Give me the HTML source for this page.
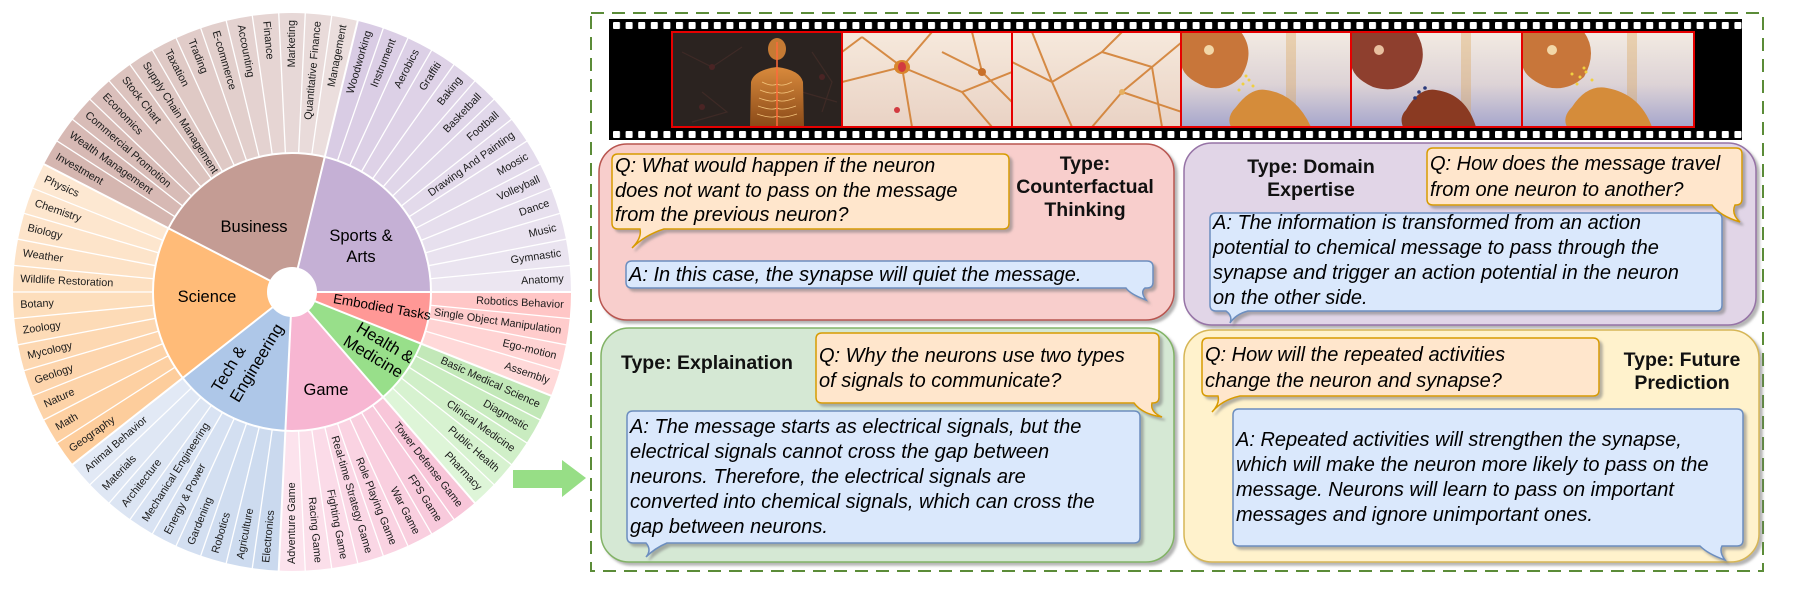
<!DOCTYPE html>
<html><head><meta charset="utf-8">
<style>
html,body{margin:0;padding:0;background:#fff;}
svg{display:block;}
.lf{font-family:"Liberation Sans",sans-serif;font-size:10.8px;fill:#1a1a1a;}
.in{font-family:"Liberation Sans",sans-serif;font-size:16.5px;fill:#000;}
.it{font-family:"Liberation Sans",sans-serif;font-size:20px;font-style:italic;fill:#000;}
.ty{font-family:"Liberation Sans",sans-serif;font-size:19.5px;font-weight:bold;fill:#111;}
</style></head><body>
<svg width="1802" height="604" viewBox="0 0 1802 604" xmlns="http://www.w3.org/2000/svg">
<defs>
<filter id="sh" x="-5%" y="-5%" width="115%" height="130%"><feDropShadow dx="3" dy="3" stdDeviation="1.2" flood-color="#777" flood-opacity="0.55"/></filter>
<pattern id="holes" x="613" y="0" width="12.6" height="200" patternUnits="userSpaceOnUse">
<rect x="0" y="22" width="7" height="7" rx="1" fill="#fff"/>
<rect x="0" y="131" width="7" height="7" rx="1" fill="#fff"/>
</pattern>
<linearGradient id="g4" x1="0" y1="0" x2="0" y2="1"><stop offset="0" stop-color="#f3ebe2"/><stop offset="0.55" stop-color="#ddd3d6"/><stop offset="1" stop-color="#a6a6cc"/></linearGradient>
<linearGradient id="g2" x1="0" y1="0" x2="0" y2="1"><stop offset="0" stop-color="#f6e9dc"/><stop offset="1" stop-color="#e9d2c4"/></linearGradient>
<linearGradient id="gb" x1="0" y1="0" x2="0" y2="1"><stop offset="0" stop-color="#d98a3c"/><stop offset="1" stop-color="#8a4a18"/></linearGradient>
</defs>

<!-- ===== SUNBURST ===== -->
<g transform="translate(292,292)">
<g fill="none" stroke-width="140" stroke-dasharray="19.86 1400">
<circle r="209" stroke="#ffc6c6" transform="rotate(0)"/>
<circle r="209" stroke="#ffcccc" transform="rotate(5.4545)"/>
<circle r="209" stroke="#ffd3d3" transform="rotate(10.909)"/>
<circle r="209" stroke="#ffd9d9" transform="rotate(16.364)"/>
<circle r="209" stroke="#c2e8b8" transform="rotate(21.818)"/>
<circle r="209" stroke="#c9ecc0" transform="rotate(27.273)"/>
<circle r="209" stroke="#d0efc8" transform="rotate(32.727)"/>
<circle r="209" stroke="#d7f2d0" transform="rotate(38.182)"/>
<circle r="209" stroke="#def5d8" transform="rotate(43.636)"/>
<circle r="209" stroke="#f8c6d9" transform="rotate(49.091)"/>
<circle r="209" stroke="#f8cadc" transform="rotate(54.545)"/>
<circle r="209" stroke="#f9cfdf" transform="rotate(60)"/>
<circle r="209" stroke="#fad3e2" transform="rotate(65.455)"/>
<circle r="209" stroke="#fad7e5" transform="rotate(70.909)"/>
<circle r="209" stroke="#fbdbe8" transform="rotate(76.364)"/>
<circle r="209" stroke="#fbdfea" transform="rotate(81.818)"/>
<circle r="209" stroke="#fce3ed" transform="rotate(87.273)"/>
<circle r="209" stroke="#cad9ee" transform="rotate(92.727)"/>
<circle r="209" stroke="#cddbef" transform="rotate(98.182)"/>
<circle r="209" stroke="#d0ddf0" transform="rotate(103.636)"/>
<circle r="209" stroke="#d3dff1" transform="rotate(109.091)"/>
<circle r="209" stroke="#d6e1f2" transform="rotate(114.545)"/>
<circle r="209" stroke="#d9e3f3" transform="rotate(120)"/>
<circle r="209" stroke="#dce5f3" transform="rotate(125.455)"/>
<circle r="209" stroke="#dfe7f4" transform="rotate(130.909)"/>
<circle r="209" stroke="#e2e9f5" transform="rotate(136.364)"/>
<circle r="209" stroke="#fdcd9c" transform="rotate(141.818)"/>
<circle r="209" stroke="#fdd0a2" transform="rotate(147.273)"/>
<circle r="209" stroke="#fdd3a8" transform="rotate(152.727)"/>
<circle r="209" stroke="#fdd5ad" transform="rotate(158.182)"/>
<circle r="209" stroke="#fdd8b2" transform="rotate(163.636)"/>
<circle r="209" stroke="#fddbb7" transform="rotate(169.091)"/>
<circle r="209" stroke="#fddebc" transform="rotate(174.545)"/>
<circle r="209" stroke="#fde0c1" transform="rotate(180)"/>
<circle r="209" stroke="#fde2c6" transform="rotate(185.455)"/>
<circle r="209" stroke="#fde4ca" transform="rotate(190.909)"/>
<circle r="209" stroke="#fde6ce" transform="rotate(196.364)"/>
<circle r="209" stroke="#fde8d2" transform="rotate(201.818)"/>
<circle r="209" stroke="#d5b6b0" transform="rotate(207.273)"/>
<circle r="209" stroke="#d7b9b4" transform="rotate(212.727)"/>
<circle r="209" stroke="#d8bcb7" transform="rotate(218.182)"/>
<circle r="209" stroke="#dabfbb" transform="rotate(223.636)"/>
<circle r="209" stroke="#dcc3be" transform="rotate(229.091)"/>
<circle r="209" stroke="#ddc6c2" transform="rotate(234.545)"/>
<circle r="209" stroke="#dfc9c5" transform="rotate(240)"/>
<circle r="209" stroke="#e1ccc9" transform="rotate(245.455)"/>
<circle r="209" stroke="#e2cfcc" transform="rotate(250.909)"/>
<circle r="209" stroke="#e4d2d0" transform="rotate(256.364)"/>
<circle r="209" stroke="#e6d5d3" transform="rotate(261.818)"/>
<circle r="209" stroke="#e7d8d7" transform="rotate(267.273)"/>
<circle r="209" stroke="#e9dbda" transform="rotate(272.727)"/>
<circle r="209" stroke="#ebdedd" transform="rotate(278.182)"/>
<circle r="209" stroke="#d9cce4" transform="rotate(283.636)"/>
<circle r="209" stroke="#dbcee5" transform="rotate(289.091)"/>
<circle r="209" stroke="#dcd0e6" transform="rotate(294.545)"/>
<circle r="209" stroke="#ded2e7" transform="rotate(300)"/>
<circle r="209" stroke="#dfd4e8" transform="rotate(305.455)"/>
<circle r="209" stroke="#e0d6e9" transform="rotate(310.909)"/>
<circle r="209" stroke="#e1d8ea" transform="rotate(316.364)"/>
<circle r="209" stroke="#e3daeb" transform="rotate(321.818)"/>
<circle r="209" stroke="#e4dcec" transform="rotate(327.273)"/>
<circle r="209" stroke="#e6deed" transform="rotate(332.727)"/>
<circle r="209" stroke="#e7e0ee" transform="rotate(338.182)"/>
<circle r="209" stroke="#e9e2ef" transform="rotate(343.636)"/>
<circle r="209" stroke="#eae4f0" transform="rotate(349.091)"/>
<circle r="209" stroke="#ece6f1" transform="rotate(354.545)"/>
</g>
<g fill="none" stroke-width="115">
<circle r="81.5" stroke="#ff9896" stroke-dasharray="31.04 600" transform="rotate(0)"/>
<circle r="81.5" stroke="#98df8a" stroke-dasharray="38.79 600" transform="rotate(21.818)"/>
<circle r="81.5" stroke="#f7b6d2" stroke-dasharray="62.07 600" transform="rotate(49.091)"/>
<circle r="81.5" stroke="#aec7e8" stroke-dasharray="69.83 600" transform="rotate(92.727)"/>
<circle r="81.5" stroke="#ffbb78" stroke-dasharray="93.11 600" transform="rotate(141.818)"/>
<circle r="81.5" stroke="#c49c94" stroke-dasharray="108.62 600" transform="rotate(207.273)"/>
<circle r="81.5" stroke="#c5b0d5" stroke-dasharray="108.62 600" transform="rotate(283.636)"/>
</g>
<g stroke="#fff" stroke-width="1.3">
<line x1="139" x2="281" transform="rotate(5.4545)"/><line x1="139" x2="281" transform="rotate(10.909)"/><line x1="139" x2="281" transform="rotate(16.364)"/>
<line x1="139" x2="281" transform="rotate(27.273)"/><line x1="139" x2="281" transform="rotate(32.727)"/><line x1="139" x2="281" transform="rotate(38.182)"/><line x1="139" x2="281" transform="rotate(43.636)"/>
<line x1="139" x2="281" transform="rotate(54.545)"/><line x1="139" x2="281" transform="rotate(60)"/><line x1="139" x2="281" transform="rotate(65.455)"/><line x1="139" x2="281" transform="rotate(70.909)"/><line x1="139" x2="281" transform="rotate(76.364)"/><line x1="139" x2="281" transform="rotate(81.818)"/><line x1="139" x2="281" transform="rotate(87.273)"/>
<line x1="139" x2="281" transform="rotate(98.182)"/><line x1="139" x2="281" transform="rotate(103.636)"/><line x1="139" x2="281" transform="rotate(109.091)"/><line x1="139" x2="281" transform="rotate(114.545)"/><line x1="139" x2="281" transform="rotate(120)"/><line x1="139" x2="281" transform="rotate(125.455)"/><line x1="139" x2="281" transform="rotate(130.909)"/><line x1="139" x2="281" transform="rotate(136.364)"/>
<line x1="139" x2="281" transform="rotate(147.273)"/><line x1="139" x2="281" transform="rotate(152.727)"/><line x1="139" x2="281" transform="rotate(158.182)"/><line x1="139" x2="281" transform="rotate(163.636)"/><line x1="139" x2="281" transform="rotate(169.091)"/><line x1="139" x2="281" transform="rotate(174.545)"/><line x1="139" x2="281" transform="rotate(180)"/><line x1="139" x2="281" transform="rotate(185.455)"/><line x1="139" x2="281" transform="rotate(190.909)"/><line x1="139" x2="281" transform="rotate(196.364)"/><line x1="139" x2="281" transform="rotate(201.818)"/>
<line x1="139" x2="281" transform="rotate(212.727)"/><line x1="139" x2="281" transform="rotate(218.182)"/><line x1="139" x2="281" transform="rotate(223.636)"/><line x1="139" x2="281" transform="rotate(229.091)"/><line x1="139" x2="281" transform="rotate(234.545)"/><line x1="139" x2="281" transform="rotate(240)"/><line x1="139" x2="281" transform="rotate(245.455)"/><line x1="139" x2="281" transform="rotate(250.909)"/><line x1="139" x2="281" transform="rotate(256.364)"/><line x1="139" x2="281" transform="rotate(261.818)"/><line x1="139" x2="281" transform="rotate(267.273)"/><line x1="139" x2="281" transform="rotate(272.727)"/><line x1="139" x2="281" transform="rotate(278.182)"/>
<line x1="139" x2="281" transform="rotate(289.091)"/><line x1="139" x2="281" transform="rotate(294.545)"/><line x1="139" x2="281" transform="rotate(300)"/><line x1="139" x2="281" transform="rotate(305.455)"/><line x1="139" x2="281" transform="rotate(310.909)"/><line x1="139" x2="281" transform="rotate(316.364)"/><line x1="139" x2="281" transform="rotate(321.818)"/><line x1="139" x2="281" transform="rotate(327.273)"/><line x1="139" x2="281" transform="rotate(332.727)"/><line x1="139" x2="281" transform="rotate(338.182)"/><line x1="139" x2="281" transform="rotate(343.636)"/><line x1="139" x2="281" transform="rotate(349.091)"/><line x1="139" x2="281" transform="rotate(354.545)"/>
</g>
<g stroke="#fff" stroke-width="2">
<line x1="20" x2="281" transform="rotate(0)"/><line x1="20" x2="281" transform="rotate(21.818)"/><line x1="20" x2="281" transform="rotate(49.091)"/><line x1="20" x2="281" transform="rotate(92.727)"/><line x1="20" x2="281" transform="rotate(141.818)"/><line x1="20" x2="281" transform="rotate(207.273)"/><line x1="20" x2="281" transform="rotate(283.636)"/>
</g>
<circle r="139" fill="none" stroke="#fff" stroke-width="2"/>
<circle r="25" fill="#fff"/>
<!-- leaf labels -->
<g class="lf" dominant-baseline="central">
<g text-anchor="end">
<text transform="rotate(2.73) translate(272 0)">Robotics Behavior</text>
<text transform="rotate(8.18) translate(272 0)">Single Object Manipulation</text>
<text transform="rotate(13.64) translate(272 0)">Ego-motion</text>
<text transform="rotate(19.09) translate(272 0)">Assembly</text>
<text transform="rotate(24.55) translate(272 0)">Basic Medical Science</text>
<text transform="rotate(30) translate(272 0)">Diagnostic</text>
<text transform="rotate(35.45) translate(272 0)">Clinical Medicine</text>
<text transform="rotate(40.91) translate(272 0)">Public Health</text>
<text transform="rotate(46.36) translate(272 0)">Pharmacy</text>
<text transform="rotate(51.82) translate(272 0)">Tower Defense Game</text>
<text transform="rotate(57.27) translate(272 0)">FPS Game</text>
<text transform="rotate(62.73) translate(272 0)">War Game</text>
<text transform="rotate(68.18) translate(272 0)">Role Playing Game</text>
<text transform="rotate(73.64) translate(272 0)">Real-time Strategy Game</text>
<text transform="rotate(79.09) translate(272 0)">Fighting Game</text>
<text transform="rotate(84.55) translate(272 0)">Racing Game</text>
<text transform="rotate(270) translate(272 0)">Marketing</text>
<text transform="rotate(275.45) translate(272 0)">Quantitative Finance</text>
<text transform="rotate(280.91) translate(272 0)">Management</text>
<text transform="rotate(286.36) translate(272 0)">Woodworking</text>
<text transform="rotate(291.82) translate(272 0)">Instrument</text>
<text transform="rotate(297.27) translate(272 0)">Aerobics</text>
<text transform="rotate(302.73) translate(272 0)">Graffiti</text>
<text transform="rotate(308.18) translate(272 0)">Baking</text>
<text transform="rotate(313.64) translate(272 0)">Basketball</text>
<text transform="rotate(319.09) translate(272 0)">Football</text>
<text transform="rotate(324.55) translate(272 0)">Drawing And Painting</text>
<text transform="rotate(330) translate(272 0)">Moosic</text>
<text transform="rotate(335.45) translate(272 0)">Volleyball</text>
<text transform="rotate(340.91) translate(272 0)">Dance</text>
<text transform="rotate(346.36) translate(272 0)">Music</text>
<text transform="rotate(351.82) translate(272 0)">Gymnastic</text>
<text transform="rotate(357.27) translate(272 0)">Anatomy</text>
</g>
<g text-anchor="start">
<text transform="rotate(270) translate(-272 0)">Adventure Game</text>
<text transform="rotate(275.45) translate(-272 0)">Electronics</text>
<text transform="rotate(280.91) translate(-272 0)">Agriculture</text>
<text transform="rotate(286.36) translate(-272 0)">Robotics</text>
<text transform="rotate(291.82) translate(-272 0)">Gardening</text>
<text transform="rotate(297.27) translate(-272 0)">Energy &amp; Power</text>
<text transform="rotate(302.73) translate(-272 0)">Mechanical Engineering</text>
<text transform="rotate(308.18) translate(-272 0)">Architecture</text>
<text transform="rotate(313.64) translate(-272 0)">Materials</text>
<text transform="rotate(319.09) translate(-272 0)">Animal Behavior</text>
<text transform="rotate(324.55) translate(-272 0)">Geography</text>
<text transform="rotate(330) translate(-272 0)">Math</text>
<text transform="rotate(335.45) translate(-272 0)">Nature</text>
<text transform="rotate(340.91) translate(-272 0)">Geology</text>
<text transform="rotate(346.36) translate(-272 0)">Mycology</text>
<text transform="rotate(351.82) translate(-272 0)">Zoology</text>
<text transform="rotate(357.27) translate(-272 0)">Botany</text>
<text transform="rotate(362.73) translate(-272 0)">Wildlife Restoration</text>
<text transform="rotate(368.18) translate(-272 0)">Weather</text>
<text transform="rotate(373.64) translate(-272 0)">Biology</text>
<text transform="rotate(379.09) translate(-272 0)">Chemistry</text>
<text transform="rotate(384.55) translate(-272 0)">Physics</text>
<text transform="rotate(390) translate(-272 0)">Investment</text>
<text transform="rotate(395.45) translate(-272 0)">Wealth Management</text>
<text transform="rotate(400.91) translate(-272 0)">Commercial Promotion</text>
<text transform="rotate(406.36) translate(-272 0)">Economics</text>
<text transform="rotate(411.82) translate(-272 0)">Stock Chart</text>
<text transform="rotate(417.27) translate(-272 0)">Supply Chain Management</text>
<text transform="rotate(422.73) translate(-272 0)">Taxation</text>
<text transform="rotate(428.18) translate(-272 0)">Trading</text>
<text transform="rotate(433.64) translate(-272 0)">E-commerce</text>
<text transform="rotate(439.09) translate(-272 0)">Accounting</text>
<text transform="rotate(444.55) translate(-272 0)">Finance</text>
</g>
</g>
</g>
<!-- inner labels -->
<g class="in" text-anchor="middle" dominant-baseline="central">
<text x="254" y="227">Business</text>
<text x="361" y="236">Sports &amp;</text>
<text x="361" y="257">Arts</text>
<text x="207" y="297">Science</text>
<text x="326" y="390">Game</text>
<text transform="translate(229,369) rotate(-59)">Tech &amp;</text>
<text transform="translate(257,363) rotate(-59)">Engineering</text>
<text transform="translate(385,343) rotate(31)">Health &amp;</text>
<text transform="translate(373,357) rotate(31)">Medicine</text>
<text transform="translate(382,307) rotate(10)" style="font-size:13.5px">Embodied Tasks</text>
</g>

<!-- arrow -->
<polygon points="513,470 562,470 562,460 586,478 562,497 562,488 513,488" fill="#97de86"/>

<!-- ===== RIGHT PANEL ===== -->
<rect x="591" y="13" width="1172" height="558" fill="none" stroke="#5b8c38" stroke-width="2" stroke-dasharray="13 8"/>

<!-- film strip -->
<rect x="609" y="19" width="1133" height="121" fill="#000"/>
<rect x="609" y="19" width="1133" height="121" fill="url(#holes)"/>

<!-- frame 1 -->
<svg x="672" y="32" width="170" height="95">
<rect width="170" height="95" fill="#2b2320"/>
<g stroke="#3e2a26" stroke-width="1.2" fill="none">
<path d="M10,20 L40,35 L70,15 M30,60 L55,80 L20,90 M140,20 L160,50 L150,80 M130,60 L165,70"/>
</g>
<circle cx="40" cy="35" r="3" fill="#4a2424"/><circle cx="150" cy="45" r="3" fill="#4a2424"/><circle cx="30" cy="75" r="3" fill="#4a2424"/>
<ellipse cx="105" cy="17" rx="9" ry="11" fill="#c57a34"/>
<path d="M78,95 L79,50 Q82,38 105,35 Q128,38 131,50 L132,95 Z" fill="url(#gb)"/>
<g stroke="#f2c27a" stroke-width="0.8" fill="none">
<path d="M90,50 Q100,55 105,52 Q110,55 120,50 M88,58 Q100,63 105,60 Q110,63 122,58 M87,66 Q100,71 105,68 Q110,71 123,66 M86,74 Q100,79 105,76 Q110,79 124,74 M85,82 Q100,87 105,84 Q110,87 125,82"/>
</g>
<line x1="105" y1="10" x2="105" y2="95" stroke="#ff6a3a" stroke-width="1.5"/>
</svg>
<!-- frame 2 -->
<svg x="842" y="32" width="170" height="95">
<rect width="170" height="95" fill="url(#g2)"/>
<g stroke="#d07a2a" stroke-width="2" fill="none" opacity="0.85">
<path d="M60,35 L20,5 M60,35 L0,50 M60,35 L90,0 M60,35 L70,95 M60,35 L120,60 L170,40 M120,60 L150,95 M20,5 L0,20 M130,0 L140,40 L170,70 M140,40 L100,20"/>
</g>
<ellipse cx="60" cy="35" rx="8" ry="7" fill="#d9862e"/><ellipse cx="60" cy="35" rx="4" ry="5" fill="#d23a40"/>
<circle cx="55" cy="78" r="3" fill="#d23a40"/><circle cx="140" cy="40" r="4" fill="#c8702a"/>
</svg>
<!-- frame 3 -->
<svg x="1012" y="32" width="170" height="95">
<rect width="170" height="95" fill="url(#g2)"/>
<g stroke="#d07a2a" stroke-width="2" fill="none" opacity="0.85">
<path d="M0,30 L40,50 L60,95 M40,50 L90,20 L110,0 M90,20 L140,35 L170,10 M140,35 L150,95 M110,60 L170,80 M110,60 L80,95 M110,60 L140,35 M20,0 L40,50"/>
</g>
<circle cx="110" cy="60" r="3" fill="#e6b060"/>
</svg>
<!-- frame 4 -->
<svg x="1181" y="32" width="170" height="95">
<rect width="170" height="95" fill="url(#g4)"/>
<rect x="105" y="0" width="10" height="95" fill="#d9a050" opacity="0.35"/>
<path d="M0,0 L60,0 Q75,20 60,45 Q45,60 25,55 Q0,45 0,30 Z" fill="#c8763a"/>
<circle cx="28" cy="18" r="5" fill="#f2d7a8"/>
<path d="M55,75 Q70,55 85,58 Q115,62 130,95 L50,95 Q45,85 55,75 Z" fill="#d58c3a"/>
<g fill="#f0d040"><circle cx="62" cy="52" r="1.5"/><circle cx="68" cy="48" r="1.5"/><circle cx="58" cy="58" r="1.5"/><circle cx="72" cy="54" r="1.5"/><circle cx="65" cy="44" r="1.5"/></g>
</svg>
<!-- frame 5 -->
<svg x="1351" y="32" width="170" height="95">
<rect width="170" height="95" fill="url(#g4)"/>
<rect x="110" y="0" width="10" height="95" fill="#d9a050" opacity="0.35"/>
<path d="M0,0 L65,0 Q80,25 62,48 Q45,62 22,55 Q0,45 0,30 Z" fill="#8e3f2e"/>
<circle cx="28" cy="18" r="5" fill="#e8c0a0"/>
<path d="M55,78 Q68,55 85,58 Q115,62 125,95 L52,95 Q48,85 55,78 Z" fill="#8a3a22"/>
<g fill="#2a3a7a"><circle cx="68" cy="60" r="1.8"/><circle cx="74" cy="56" r="1.8"/><circle cx="64" cy="66" r="1.8"/></g>
</svg>
<!-- frame 6 -->
<svg x="1522" y="32" width="172" height="95">
<rect width="172" height="95" fill="url(#g4)"/>
<rect x="105" y="0" width="10" height="95" fill="#d9a050" opacity="0.35"/>
<path d="M0,0 L62,0 Q76,20 62,45 Q45,60 25,55 Q0,45 0,30 Z" fill="#c8763a"/>
<circle cx="30" cy="18" r="5" fill="#f2d7a8"/>
<path d="M50,75 Q65,52 85,56 Q118,62 130,95 L45,95 Q40,85 50,75 Z" fill="#d58c3a"/>
<g fill="#f0d040"><circle cx="58" cy="45" r="1.5"/><circle cx="64" cy="40" r="1.5"/><circle cx="55" cy="52" r="1.5"/><circle cx="70" cy="48" r="1.5"/><circle cx="62" cy="36" r="1.5"/><circle cx="50" cy="42" r="1.5"/></g>
</svg>
<g fill="none" stroke="#e60000" stroke-width="2">
<rect x="672" y="32" width="170" height="95"/><rect x="842" y="32" width="170" height="95"/><rect x="1012" y="32" width="169" height="95"/>
<rect x="1181" y="32" width="170" height="95"/><rect x="1351" y="32" width="171" height="95"/><rect x="1522" y="32" width="172" height="95"/>
</g>

<!-- cards -->
<g filter="url(#sh)" stroke-width="1.5">
<rect x="599" y="144" width="575" height="176" rx="28" fill="#f8cecc" stroke="#b85450"/>
<rect x="1184" y="143" width="572" height="182" rx="28" fill="#e1d5e7" stroke="#9673a6"/>
<rect x="601" y="328" width="573" height="234" rx="28" fill="#d5e8d4" stroke="#82b366"/>
<rect x="1184" y="330" width="575" height="232" rx="28" fill="#fff2cc" stroke="#d6b656"/>
</g>

<!-- bubbles -->
<g filter="url(#sh)" stroke-width="1.5">
<!-- pink Q -->
<path d="M618,154 H1003 Q1009,154 1009,160 V223 Q1009,229 1003,229 H664 Q645,235 632,248 Q642,238 640,229 H618 Q612,229 612,223 V160 Q612,154 618,154 Z" fill="#ffe6cc" stroke="#d79b00"/>
<!-- pink A -->
<path d="M632,261 H1147 Q1153,261 1153,267 V282 Q1153,288 1147,288 H1145 Q1140,292 1146,300 Q1130,294 1126,288 H632 Q626,288 626,282 V267 Q626,261 632,261 Z" fill="#dae8fc" stroke="#6c8ebf"/>
<!-- purple Q -->
<path d="M1433,148 H1736 Q1742,148 1742,154 V199 Q1742,205 1736,205 H1735 Q1731,214 1740,222 Q1720,216 1712,205 H1433 Q1427,205 1427,199 V154 Q1427,148 1433,148 Z" fill="#ffe6cc" stroke="#d79b00"/>
<!-- purple A -->
<path d="M1216,213 H1716 Q1722,213 1722,219 V305 Q1722,311 1716,311 H1248 Q1236,314 1230,323 Q1233,316 1226,311 H1216 Q1210,311 1210,305 V219 Q1210,213 1216,213 Z" fill="#dae8fc" stroke="#6c8ebf"/>
<!-- green Q -->
<path d="M822,333 H1153 Q1159,333 1159,339 V397 Q1159,403 1153,403 H1152 Q1150,412 1162,417 Q1142,414 1134,403 H822 Q816,403 816,397 V339 Q816,333 822,333 Z" fill="#ffe6cc" stroke="#d79b00"/>
<!-- green A -->
<path d="M633,411 H1134 Q1140,411 1140,417 V537 Q1140,543 1134,543 H667 Q655,548 646,557 Q652,550 646,543 H633 Q627,543 627,537 V417 Q627,411 633,411 Z" fill="#dae8fc" stroke="#6c8ebf"/>
<!-- yellow Q -->
<path d="M1208,338 H1593 Q1599,338 1599,344 V390 Q1599,396 1593,396 H1240 Q1222,400 1212,412 Q1220,404 1218,396 H1208 Q1202,396 1202,390 V344 Q1202,338 1208,338 Z" fill="#ffe6cc" stroke="#d79b00"/>
<!-- yellow A -->
<path d="M1239,409 H1737 Q1743,409 1743,415 V540 Q1743,546 1737,546 H1722 Q1719,552 1725,560 Q1708,554 1700,546 H1239 Q1233,546 1233,540 V415 Q1233,409 1239,409 Z" fill="#dae8fc" stroke="#6c8ebf"/>
</g>

<!-- texts -->
<g class="it">
<text x="615" y="172">Q: What would happen if the neuron</text>
<text x="615" y="197">does not want to pass on the message</text>
<text x="615" y="221">from the previous neuron?</text>
<text x="629" y="281">A: In this case, the synapse will quiet the message.</text>

<text x="1430" y="170">Q: How does the message travel</text>
<text x="1430" y="196">from one neuron to another?</text>
<text x="1213" y="229">A: The information is transformed from an action</text>
<text x="1213" y="254">potential to chemical message to pass through the</text>
<text x="1213" y="279">synapse and trigger an action potential in the neuron</text>
<text x="1213" y="304">on the other side.</text>

<text x="819" y="362">Q: Why the neurons use two types</text>
<text x="819" y="387">of signals to communicate?</text>
<text x="630" y="433">A: The message starts as electrical signals, but the</text>
<text x="630" y="458">electrical signals cannot cross the gap between</text>
<text x="630" y="483">neurons. Therefore, the electrical signals are</text>
<text x="630" y="508">converted into chemical signals, which can cross the</text>
<text x="630" y="533">gap between neurons.</text>

<text x="1205" y="361">Q: How will the repeated activities</text>
<text x="1205" y="387">change the neuron and synapse?</text>
<text x="1236" y="446">A: Repeated activities will strengthen the synapse,</text>
<text x="1236" y="471">which will make the neuron more likely to pass on the</text>
<text x="1236" y="496">message. Neurons will learn to pass on important</text>
<text x="1236" y="521">messages and ignore unimportant ones.</text>
</g>
<g class="ty" text-anchor="middle">
<text x="1085" y="170">Type:</text>
<text x="1085" y="193">Counterfactual</text>
<text x="1085" y="216">Thinking</text>
<text x="1311" y="173">Type: Domain</text>
<text x="1311" y="196">Expertise</text>
<text x="1682" y="366">Type: Future</text>
<text x="1682" y="389">Prediction</text>
</g>
<text class="ty" x="621" y="369">Type: Explaination</text>
</svg>
</body></html>
